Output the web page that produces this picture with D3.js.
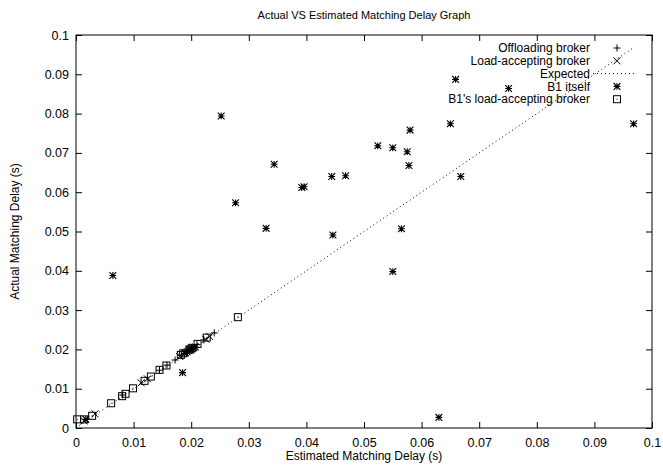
<!DOCTYPE html>
<html>
<head>
<meta charset="utf-8">
<script src="https://cdn.jsdelivr.net/npm/d3@7"></script>
<style>
  body { margin: 0; background: #fff; }
  svg { display: block; }
  text { font-family: "Liberation Sans", Arial, Helvetica, sans-serif; fill: #000; }
</style>
</head>
<body>
<div id="chart"></div>
<script>
const titleText = "Actual VS Estimated Matching Delay Graph";
const xLabel = "Estimated Matching Delay (s)";
const yLabel = "Actual Matching Delay (s)";
const xTicks = [0, 0.01, 0.02, 0.03, 0.04, 0.05, 0.06, 0.07, 0.08, 0.09, 0.1];
const yTicks = [0, 0.01, 0.02, 0.03, 0.04, 0.05, 0.06, 0.07, 0.08, 0.09, 0.1];
const seriesNames = ["Offloading broker", "Load-accepting broker", "Expected", "B1 itself", "B1's load-accepting broker"];

// Offloading broker (+)  [estimated, actual]
const offloading = [
  [0.0081, 0.0084], [0.0145, 0.0147], [0.0158, 0.0160], [0.0172, 0.0173],
  [0.0183, 0.0186], [0.0193, 0.0195], [0.0198, 0.0200], [0.0203, 0.0205],
  [0.0210, 0.0212], [0.0222, 0.0224], [0.0240, 0.0242]
];
// Load-accepting broker (x)
const loadAccepting = [
  [0.0014, 0.0018], [0.0033, 0.0036], [0.0113, 0.0115], [0.0124, 0.0125],
  [0.0180, 0.0182], [0.0190, 0.0192], [0.0197, 0.0199], [0.0204, 0.0206],
  [0.0225, 0.0226], [0.0232, 0.0233]
];
// B1 itself (*)
const b1Itself = [
  [0.0017, 0.0022], [0.0064, 0.0388], [0.0185, 0.0141], [0.0189, 0.0190],
  [0.0193, 0.0194], [0.0196, 0.0197], [0.0199, 0.0199], [0.0201, 0.0202],
  [0.0204, 0.0204], [0.0207, 0.0206],
  [0.0252, 0.0794], [0.0277, 0.0573], [0.0330, 0.0508], [0.0344, 0.0671],
  [0.0392, 0.0612], [0.0396, 0.0614], [0.0444, 0.0640], [0.0446, 0.0491],
  [0.0468, 0.0642], [0.0524, 0.0718], [0.0550, 0.0713], [0.0550, 0.0398],
  [0.0565, 0.0507], [0.0575, 0.0703], [0.0578, 0.0668], [0.0580, 0.0758],
  [0.0630, 0.0027], [0.0650, 0.0774], [0.0659, 0.0887], [0.0668, 0.0640],
  [0.0751, 0.0864], [0.0968, 0.0774]
];
// B1's load-accepting broker (square)
const b1LoadAccepting = [
  [0.0002, 0.0022], [0.0014, 0.0022], [0.0028, 0.0031], [0.0061, 0.0063],
  [0.0080, 0.0081], [0.0086, 0.0087], [0.0099, 0.0101], [0.0119, 0.0120],
  [0.0130, 0.0131], [0.0145, 0.0148], [0.0157, 0.0159], [0.0182, 0.0186],
  [0.0186, 0.0190], [0.0197, 0.0200], [0.0201, 0.0203], [0.0211, 0.0214],
  [0.0227, 0.0230], [0.0281, 0.0282]
];

const W = 663, H = 472;
const margin = { left: 76, right: 11, top: 35, bottom: 44 };
const svg = d3.select("#chart").append("svg").attr("width", W).attr("height", H);

const x = d3.scaleLinear().domain([0, 0.1]).range([margin.left, W - margin.right]);
const y = d3.scaleLinear().domain([0, 0.1]).range([H - margin.bottom, margin.top]);

const fmt = d => d === 0 ? "0" : String(+d.toFixed(2));
const fs = 12.5;

// axes with inward ticks, mirrored
const tickLen = 6;
const gx = svg.append("g").attr("transform", `translate(0,${y(0)})`)
  .call(d3.axisBottom(x).tickValues(xTicks).tickFormat(fmt).tickSizeInner(-tickLen).tickSizeOuter(0).tickPadding(10));
const gxt = svg.append("g").attr("transform", `translate(0,${y(0.1)})`)
  .call(d3.axisTop(x).tickValues(xTicks).tickFormat("").tickSizeInner(-tickLen).tickSizeOuter(0));
const gy = svg.append("g").attr("transform", `translate(${x(0)},0)`)
  .call(d3.axisLeft(y).tickValues(yTicks).tickFormat(fmt).tickSizeInner(-tickLen).tickSizeOuter(0).tickPadding(7));
const gyr = svg.append("g").attr("transform", `translate(${x(0.1)},0)`)
  .call(d3.axisRight(y).tickValues(yTicks).tickFormat("").tickSizeInner(-tickLen).tickSizeOuter(0));
[gx, gxt, gy, gyr].forEach(g => {
  g.select(".domain").remove();
  g.selectAll("line").attr("stroke", "#000").attr("stroke-width", 1);
  g.selectAll("text").style("font-size", fs + "px").style("font-family", "Liberation Sans, Arial, sans-serif");
});
svg.append("rect")
  .attr("x", x(0)).attr("y", y(0.1))
  .attr("width", x(0.1) - x(0)).attr("height", y(0) - y(0.1))
  .attr("fill", "none").attr("stroke", "#000").attr("stroke-width", 1);

// Title and labels
svg.append("text").attr("x", (x(0) + x(0.1)) / 2).attr("y", 19)
  .attr("text-anchor", "middle").style("font-size", "11px").text(titleText);
svg.append("text").attr("x", (x(0) + x(0.1)) / 2).attr("y", 460)
  .attr("text-anchor", "middle").style("font-size", "12px").text(xLabel);
svg.append("text").attr("transform", `translate(19,${(y(0) + y(0.1)) / 2}) rotate(-90)`)
  .attr("text-anchor", "middle").style("font-size", "12px").text(yLabel);

const plot = svg.append("g");
const S = 3.5; // half-size of point symbols

function plus(g, px, py) {
  g.append("path").attr("d", `M${px - S},${py}H${px + S}M${px},${py - S}V${py + S}`)
    .attr("stroke", "#000").attr("stroke-width", 1).attr("fill", "none");
}
function cross(g, px, py) {
  g.append("path").attr("d", `M${px - S},${py - S}L${px + S},${py + S}M${px - S},${py + S}L${px + S},${py - S}`)
    .attr("stroke", "#000").attr("stroke-width", 1).attr("fill", "none");
}
function star(g, px, py) {
  const s = 3.4;
  g.append("path").attr("d", `M${px - s},${py}H${px + s}M${px},${py - s}V${py + s}M${px - s},${py - s}L${px + s},${py + s}M${px - s},${py + s}L${px + s},${py - s}`)
    .attr("stroke", "#000").attr("stroke-width", 1.1).attr("fill", "none");
}
function square(g, px, py) {
  g.append("rect").attr("x", px - S).attr("y", py - S).attr("width", 2 * S).attr("height", 2 * S)
    .attr("stroke", "#000").attr("stroke-width", 1).attr("fill", "none");
  g.append("rect").attr("x", px - 0.5).attr("y", py - 0.5).attr("width", 1).attr("height", 1).attr("fill", "#000");
}

// Expected line y = x from 0 to max estimated value
const maxX = d3.max([...offloading, ...loadAccepting, ...b1Itself, ...b1LoadAccepting], d => d[0]);
const line = d3.line().x(d => x(d[0])).y(d => y(d[1]));
plot.append("path").datum([[0, 0], [maxX, maxX]]).attr("d", line)
  .attr("stroke", "#000").attr("stroke-width", 1).attr("stroke-dasharray", "1,3").attr("fill", "none");

offloading.forEach(d => plus(plot, x(d[0]), y(d[1])));
loadAccepting.forEach(d => cross(plot, x(d[0]), y(d[1])));
b1Itself.forEach(d => star(plot, x(d[0]), y(d[1])));
b1LoadAccepting.forEach(d => square(plot, x(d[0]), y(d[1])));

// Legend
const legX = 590, symX = 617, legY0 = 48, legDy = 12.8;
const leg = svg.append("g");
seriesNames.forEach((name, i) => {
  const ly = legY0 + i * legDy;
  leg.append("text").attr("x", legX).attr("y", ly).attr("dy", "0.35em")
    .attr("text-anchor", "end").style("font-size", "12px").text(name);
  if (i === 0) plus(leg, symX, ly);
  else if (i === 1) cross(leg, symX, ly);
  else if (i === 2) leg.append("line").attr("x1", legX + 3).attr("x2", 634).attr("y1", ly).attr("y2", ly)
    .attr("stroke", "#000").attr("stroke-dasharray", "1,3");
  else if (i === 3) star(leg, symX, ly);
  else square(leg, symX, ly);
});
</script>
</body>
</html>
